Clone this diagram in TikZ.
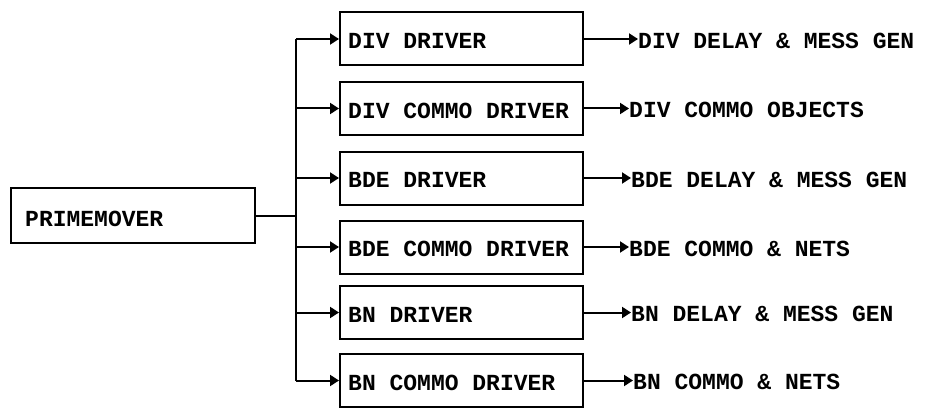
\documentclass[tikz,border=0pt]{standalone}
\usepackage{fontspec}
\setmainfont{Liberation Mono}
\usetikzlibrary{arrows.meta}
\begin{document}
\begin{tikzpicture}[x=1pt,y=-1pt,
  box/.style={draw,line width=2pt,minimum height=53pt,inner sep=0pt},
  drv/.style={box,minimum width=243pt},
  lbl/.style={anchor=west,inner sep=0pt,font=\fontsize{23}{24}\selectfont\bfseries},
  arr/.style={line width=2pt,-{Triangle[length=9pt,width=11pt]}},
  ln/.style={line width=2pt}]
\useasboundingbox (0,0) rectangle (925,409);
\node[box,minimum width=244pt,minimum height=55pt] (pm) at (133,215.5) {};
\node[lbl] at (25,219) {PRIMEMOVER};
\foreach \i/\y/\t/\ox/\o in {
  1/39/DIV DRIVER/638/DIV DELAY \& MESS GEN,
  2/108.5/DIV COMMO DRIVER/629/DIV COMMO OBJECTS,
  3/178/BDE DRIVER/631/BDE DELAY \& MESS GEN,
  4/247/BDE COMMO DRIVER/629/BDE COMMO \& NETS,
  5/312.5/BN DRIVER/631/BN DELAY \& MESS GEN,
  6/380.5/BN COMMO DRIVER/633/BN COMMO \& NETS}{
  \node[drv] (d\i) at (461.5,\y) {};
  \node[lbl] at (348,\y+2) {\t};
  \node[lbl] (o\i) at (\ox,\y+1.5) {\o};
  \draw[arr] (d\i.east) -- (o\i.west |- d\i.east);
}
\coordinate (tr) at (296,0);
\draw[ln] (tr |- d1.west) -- (tr |- d6.west);
\draw[ln] (pm.east) -- (tr |- pm.east);
\foreach \i in {1,...,6}{\draw[arr] (tr |- d\i.west) -- (d\i.west);}
\end{tikzpicture}
\end{document}
